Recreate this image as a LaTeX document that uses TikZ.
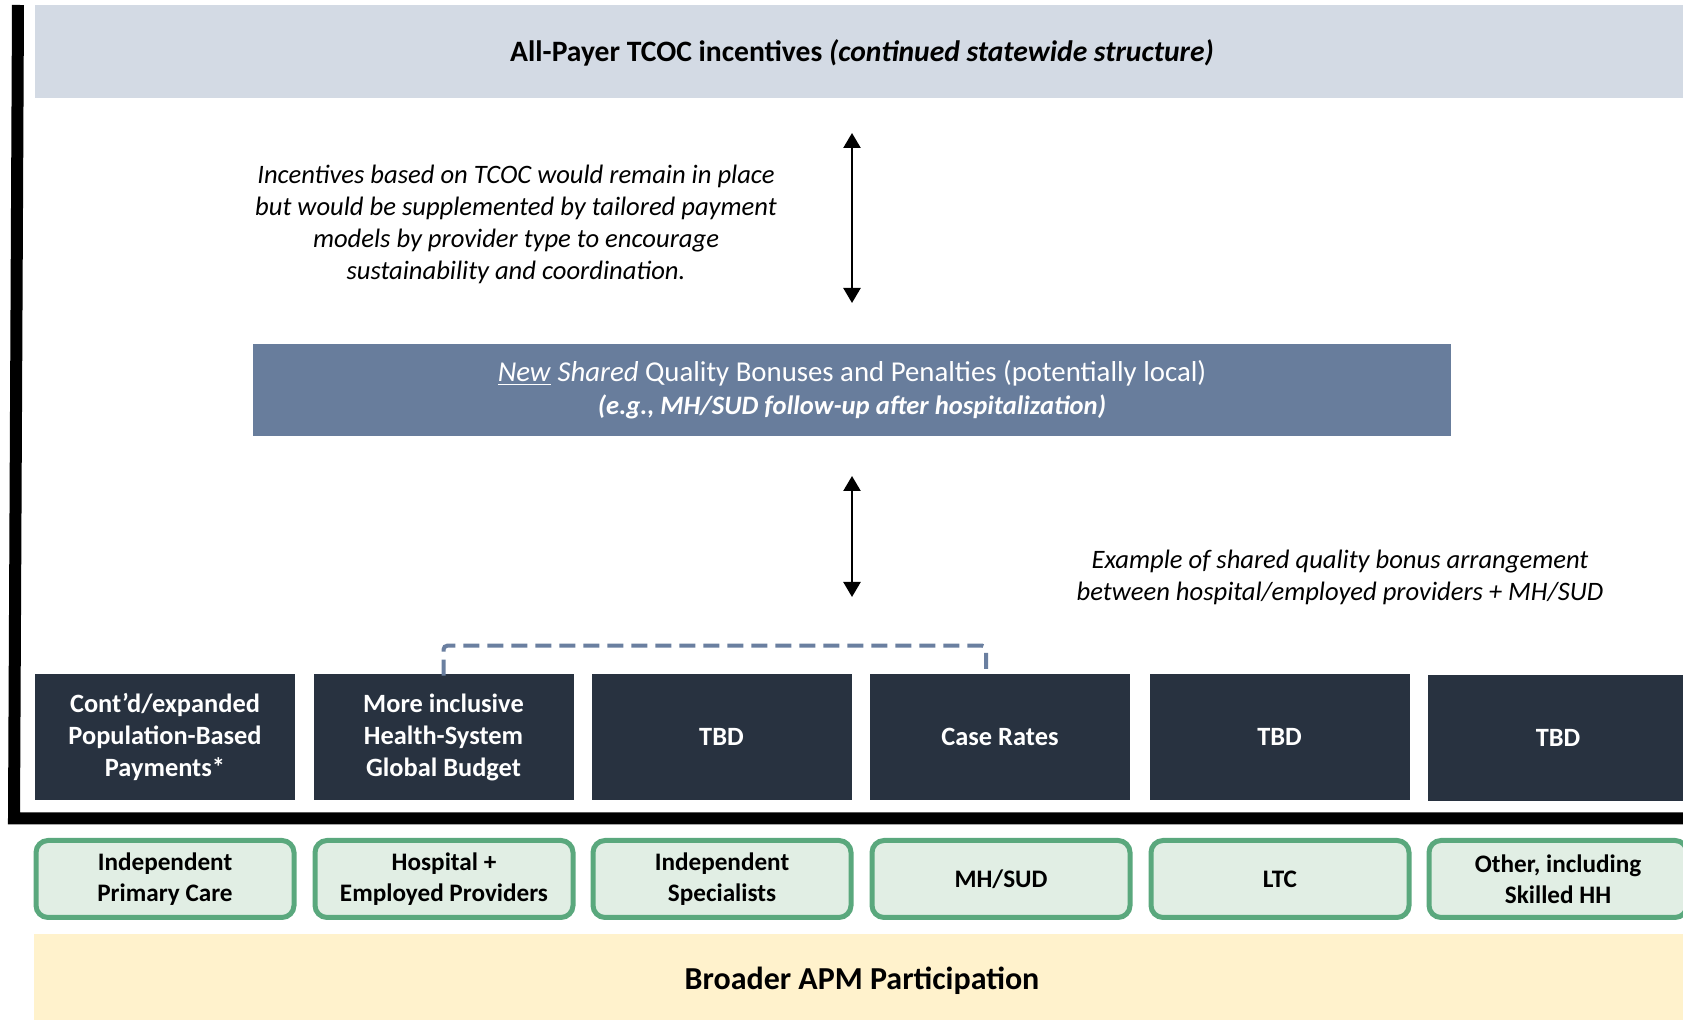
\documentclass[tikz,border=0pt]{standalone}
\usepackage{fontspec}
\setmainfont{Carlito}
\usepackage{tikz}
\usetikzlibrary{arrows.meta}

\definecolor{bandgray}{RGB}{211,218,228}
\definecolor{sharedblue}{RGB}{104,125,156}
\definecolor{paynavy}{RGB}{40,50,64}
\definecolor{provfill}{RGB}{225,238,228}
\definecolor{provline}{RGB}{90,168,125}
\definecolor{apmyellow}{RGB}{255,242,204}
\definecolor{bracketblue}{RGB}{106,127,160}

\tikzset{
  paybox/.style={fill=paynavy, text=white, minimum width=130pt, minimum height=63pt, inner sep=0pt, align=center, font=\fontsize{13.2}{16}\selectfont\bfseries},
  provbox/.style={fill=provfill, draw=provline, line width=2.5pt, rounded corners=6pt, minimum width=129pt, minimum height=38.5pt, inner sep=0pt, align=center, font=\fontsize{12.6}{15.5}\selectfont\bfseries},
  notetext/.style={align=center, font=\fontsize{13.3}{16}\selectfont\itshape},
  twoway/.style={line width=1.2pt, {Triangle[width=8.5pt,length=7.5pt]}-{Triangle[width=8.5pt,length=7.5pt]}}
}

\begin{document}
\begin{tikzpicture}[x=0.5pt,y=0.5pt,yscale=-1,xscale=1]
	\useasboundingbox (0,0) rectangle (1683,1020);
	
	%Shape: Rectangle [top band]
	\node [fill=bandgray, minimum width=824pt, minimum height=46.5pt, inner sep=0pt] (tcoc) at (859,51.5) {};
	\node [font=\fontsize{14.8}{16}\selectfont\bfseries] (tcoctext) at (862,53) {All-Payer TCOC incentives \textit{(continued statewide structure)}};
	
	%Shape: Rectangle [yellow band]
	\node [fill=apmyellow, minimum width=824.5pt, minimum height=43pt, inner sep=0pt] (apm) at (858.5,977) {};
	\node [font=\fontsize{16}{18}\selectfont\bfseries] (apmtext) at (862,981) {Broader APM Participation};
	
	%Shape: Frame [left and bottom black border]
	\draw [line width=6pt, line join=miter] (18,5) -- (14,818.5) -- (1690,818.5) ;
	
	%Text: note left
	\node [notetext] (noteL) at (516,224) {Incentives based on TCOC would remain in place\\but would be supplemented by tailored payment\\models by provider type to encourage\\sustainability and coordination.};
	
	%Shape: Rectangle [shared quality box]
	\node [fill=sharedblue, text=white, minimum width=599pt, minimum height=46pt, inner sep=0pt, align=center, font=\fontsize{14.4}{16.5}\selectfont] (shared) at (852,390) {\underline{\textit{New}} \textit{Shared} Quality Bonuses and Penalties (potentially local)\\{\fontsize{13.3}{16.5}\selectfont\bfseries\itshape (e.g., MH/SUD follow-up after hospitalization)}};
	
	%Text: note right
	\node [notetext] (noteR) at (1340,577) {Example of shared quality bonus arrangement\\between hospital/employed providers + MH/SUD};
	
	%Straight Lines [two-way arrows]
	\coordinate (arrAtop) at (852,133);
	\coordinate (arrAbot) at (852,303);
	\coordinate (arrBtop) at (852,476);
	\coordinate (arrBbot) at (852,597);
	\draw [twoway] (arrAtop) -- (arrAbot) ;
	\draw [twoway] (arrBtop) -- (arrBbot) ;
	
	%Shape: Rectangle [payment models]
	\node [paybox] (pay1) at (165,737) {Cont'd/expanded\\Population-Based\\Payments*};
	\node [paybox] (pay2) at (443.5,737) {More inclusive\\Health-System\\Global Budget};
	\node [paybox] (pay3) at (721.5,737) {TBD};
	\node [paybox] (pay4) at (1000,737) {Case Rates};
	\node [paybox] (pay5) at (1279.5,737) {TBD};
	\node [paybox] (pay6) at (1558,738) {TBD};
	
	%Dashed bracket
	\draw [bracketblue, line width=2pt, dash pattern={on 8pt off 4pt}, rounded corners=2pt] ([yshift=1pt]pay2.north) -- ++(0,-30) -| ([xshift=-7pt,yshift=1pt]pay4.north) ;
	
	%Shape: Rounded Rectangle [provider types]
	\node [provbox] (prov1) at (165,879) {Independent\\Primary Care};
	\node [provbox] (prov2) at (444,879) {Hospital +\\Employed Providers};
	\node [provbox] (prov3) at (722,879) {Independent\\Specialists};
	\node [provbox] (prov4) at (1001,879) {MH/SUD};
	\node [provbox] (prov5) at (1280,879) {LTC};
	\node [provbox] (prov6) at (1558,879) {Other, including\\Skilled HH};
	
\end{tikzpicture}
\end{document}
